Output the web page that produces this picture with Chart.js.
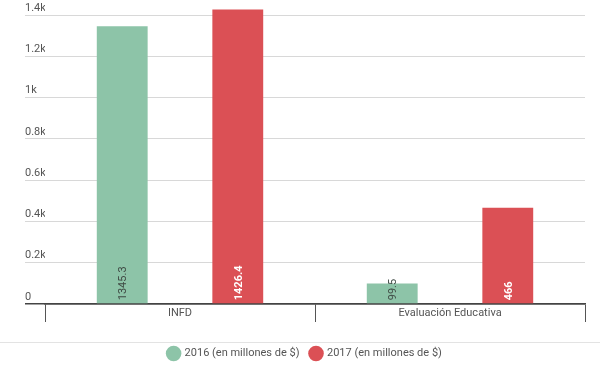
<!DOCTYPE html>
<html>
<head>
<meta charset="utf-8">
<script src="https://cdn.jsdelivr.net/npm/chart.js@4"></script>
<style>
  body { margin: 0; background: #fff; }
  #wrap { width: 600px; height: 365px; }
</style>
</head>
<body>
<div id="wrap"><canvas id="bars"></canvas></div>
<script>
var categories = ['INFD', 'Evaluación Educativa'];
var values2016 = [1345.3, 99.5];
var values2017 = [1426.4, 466];
var seriesNames = ['2016 (en millones de $)', '2017 (en millones de $)'];

// value labels drawn vertically at the foot of each bar
var barLabels = {
  id: 'barLabels',
  afterDatasetsDraw: function(chart) {
    var ctx = chart.ctx;
    var colors = ['#3f4a44', '#ffffff'];
    chart.data.datasets.forEach(function(ds, i) {
      chart.getDatasetMeta(i).data.forEach(function(bar, j) {
        ctx.save();
        ctx.translate(bar.x + 1, bar.base - 3);
        ctx.rotate(-Math.PI / 2);
        ctx.font = (i == 1 ? 'bold ' : '') + '11px Roboto';
        ctx.fillStyle = colors[i];
        ctx.textAlign = 'left';
        ctx.textBaseline = 'middle';
        ctx.fillText(String(ds.data[j]), 0, 0);
        ctx.restore();
      });
    });
  }
};

// thin rule above the legend
var legendRule = {
  id: 'legendRule',
  afterDraw: function(chart) {
    var ctx = chart.ctx;
    var y = chart.legend.top + 5.5;
    ctx.save();
    ctx.strokeStyle = '#e3e3e3';
    ctx.lineWidth = 1;
    ctx.beginPath();
    ctx.moveTo(0, y);
    ctx.lineTo(chart.width, y);
    ctx.stroke();
    ctx.restore();
  }
};

Chart.defaults.font.family = 'Roboto';
Chart.defaults.font.size = 11;
Chart.defaults.color = '#555';

var ctx = document.getElementById('bars').getContext('2d');
var myChart = new Chart(ctx, {
  type: 'bar',
  data: {
    labels: categories,
    datasets: [{
      label: seriesNames[0],
      data: values2016,
      backgroundColor: '#8dc4a8',
      categoryPercentage: 0.856,
      barPercentage: 0.44
    }, {
      label: seriesNames[1],
      data: values2017,
      backgroundColor: '#db5055',
      categoryPercentage: 0.856,
      barPercentage: 0.44
    }]
  },
  options: {
    responsive: true,
    maintainAspectRatio: false,
    animation: false,
    layout: { padding: { left: 25, right: 15, top: 0, bottom: -4 } },
    plugins: {
      tooltip: { enabled: false },
      legend: {
        position: 'bottom',
        labels: {
          usePointStyle: true,
          pointStyle: 'circle',
          boxWidth: 12,
          boxHeight: 12,
          padding: 11,
          color: '#555',
          font: { size: 11 }
        }
      }
    },
    scales: {
      x: {
        afterFit: function(scale) { scale.height = 33; },
        border: { color: '#444', width: 1.5 },
        grid: {
          offset: true,
          drawOnChartArea: false,
          tickLength: 18,
          color: '#555'
        },
        ticks: { padding: -15, color: '#555' }
      },
      y: {
        min: 0,
        max: 1441,
        afterFit: function(scale) { scale.width = 20; },
        border: { display: false },
        grid: {
          tickLength: 20,
          color: function(c) { return c.tick && c.tick.value === 0 ? '#444' : '#d8d8d8'; },
          lineWidth: function(c) { return c.tick && c.tick.value === 0 ? 1.5 : 1; }
        },
        ticks: {
          stepSize: 200,
          includeBounds: false,
          crossAlign: 'far',
          labelOffset: -7,
          padding: 0,
          color: '#555',
          callback: function(v) { return v === 0 ? '0' : (v / 1000) + 'k'; }
        }
      }
    }
  },
  plugins: [barLabels, legendRule]
});
</script>
</body>
</html>
